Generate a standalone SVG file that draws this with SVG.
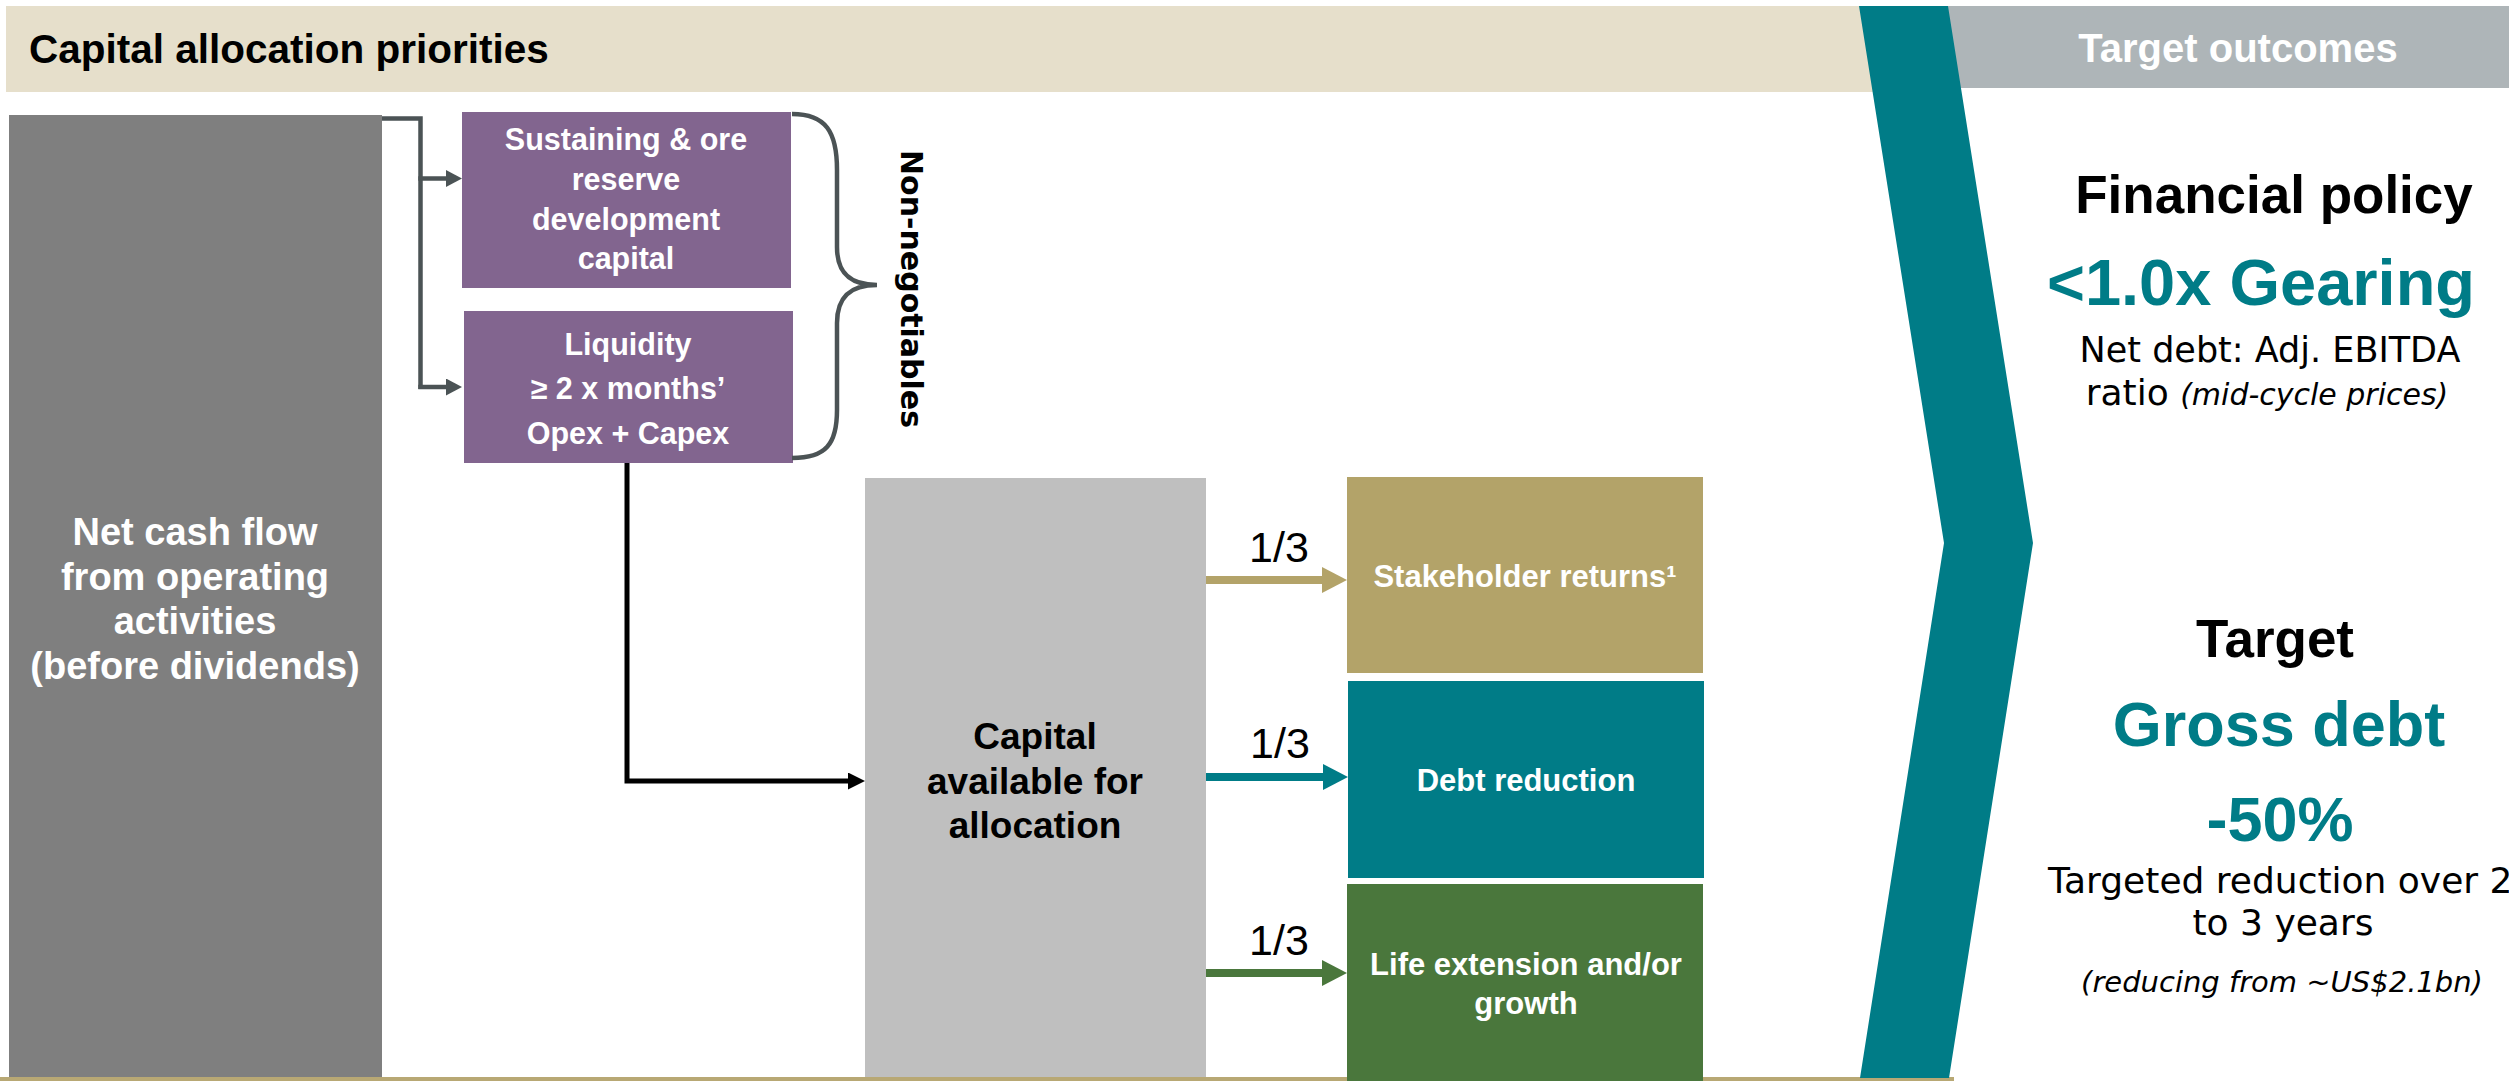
<svg xmlns="http://www.w3.org/2000/svg" width="2509" height="1081" viewBox="0 0 2509 1081">
<style>
.b{font-family:"Liberation Sans",Arial,sans-serif;font-weight:bold}
.r{font-family:"DejaVu Sans",sans-serif}
.c{text-anchor:middle}
.w{fill:#ffffff}
.k{fill:#000000}
.t{fill:#007c87}
.pt{font-size:30.5px}
.ot{font-size:31px}
.frac{font-family:"Liberation Sans",Arial,sans-serif;font-size:43px;fill:#000000;text-anchor:middle}
.gconn{fill:none;stroke:#4b5355;stroke-width:4.5}
</style>
<defs>
<marker id="ag" markerUnits="userSpaceOnUse" markerWidth="17" markerHeight="17" refX="0" refY="8.5" orient="auto"><path d="M0,0 L16,8.5 L0,17 Z" fill="#4b5355"/></marker>
<marker id="ak" markerUnits="userSpaceOnUse" markerWidth="18" markerHeight="17" refX="0" refY="8.5" orient="auto"><path d="M0,0 L17,8.5 L0,17 Z" fill="#000000"/></marker>
<marker id="atan" markerUnits="userSpaceOnUse" markerWidth="26" markerHeight="26" refX="0" refY="13" orient="auto"><path d="M0,0 L25,13 L0,26 Z" fill="#b3a369"/></marker>
<marker id="ateal" markerUnits="userSpaceOnUse" markerWidth="26" markerHeight="26" refX="0" refY="13" orient="auto"><path d="M0,0 L25,13 L0,26 Z" fill="#007c87"/></marker>
<marker id="agrn" markerUnits="userSpaceOnUse" markerWidth="26" markerHeight="26" refX="0" refY="13" orient="auto"><path d="M0,0 L25,13 L0,26 Z" fill="#4a773c"/></marker>
</defs>
<rect x="0" y="0" width="2509" height="1081" fill="#ffffff"/>

<g id="header-left">
<rect x="6" y="6" width="1900" height="86" fill="#e6dfcb"/>
<text x="29" y="63" class="b k" font-size="40.5">Capital allocation priorities</text>
</g>
<g id="header-right">
<rect x="1900" y="6" width="609" height="82" fill="#aeb5b8"/>
<text x="2238" y="62" class="b w c" font-size="40">Target outcomes</text>
</g>

<rect id="bottom-rule" x="0" y="1077" width="1954" height="4" fill="#b8a874"/>

<g id="net-cash-flow">
<rect x="9" y="115" width="373" height="962" fill="#7f7f7f"/>
<text class="b w c" font-size="38"><tspan x="195" y="545">Net cash flow</tspan><tspan x="195" y="590">from operating</tspan><tspan x="195" y="634">activities</tspan><tspan x="195" y="679">(before dividends)</tspan></text>
</g>

<g id="sustaining">
<rect x="462" y="112" width="329" height="176" fill="#82658f"/>
<text class="b w c pt"><tspan x="626" y="150">Sustaining &amp; ore</tspan><tspan x="626" y="190">reserve</tspan><tspan x="626" y="230">development</tspan><tspan x="626" y="269">capital</tspan></text>
</g>

<g id="liquidity">
<rect x="464" y="311" width="329" height="152" fill="#82658f"/>
<text class="b w c pt"><tspan x="628" y="355">Liquidity</tspan><tspan x="628" y="399">≥ 2 x months’</tspan><tspan x="628" y="444">Opex + Capex</tspan></text>
</g>

<g id="non-negotiables">
<path d="M792,114 C826,114 837,132 837,170 L837,247 C837,273 850,285 877,285 C850,285 837,297 837,323 L837,410 C837,444 826,458 792,458" fill="none" stroke="#4b5355" stroke-width="4.5"/>
<text transform="translate(901,289) rotate(90)" class="c k" font-family="'DejaVu Sans',sans-serif" font-weight="bold" font-size="30">Non-negotiables</text>
</g>

<g id="capital-available">
<rect x="865" y="478" width="341" height="599" fill="#bfbfbf"/>
<text class="b k c" font-size="37"><tspan x="1035" y="749">Capital</tspan><tspan x="1035" y="794">available for</tspan><tspan x="1035" y="838">allocation</tspan></text>
</g>

<g id="stakeholder-returns">
<rect x="1347" y="477" width="356" height="196" fill="#b3a369"/>
<text x="1525" y="587" class="b w c ot">Stakeholder returns¹</text>
</g>

<g id="debt-reduction">
<rect x="1348" y="681" width="356" height="197" fill="#007c87"/>
<text x="1526" y="791" class="b w c ot">Debt reduction</text>
</g>

<g id="life-extension">
<rect x="1347" y="884" width="356" height="197" fill="#4a773c"/>
<text class="b w c ot"><tspan x="1526" y="975">Life extension and/or</tspan><tspan x="1526" y="1014">growth</tspan></text>
</g>

<g id="connectors">
<path class="gconn" d="M382,118.5 H420.5 V389"/>
<path class="gconn" d="M418.3,178.5 H446" marker-end="url(#ag)"/>
<path class="gconn" d="M418.3,387 H446" marker-end="url(#ag)"/>
<path d="M627,463 V781 H848" fill="none" stroke="#000000" stroke-width="5" marker-end="url(#ak)"/>
<path d="M1206,580 H1322" fill="none" stroke="#b3a369" stroke-width="8" marker-end="url(#atan)"/>
<path d="M1206,777 H1323" fill="none" stroke="#007c87" stroke-width="8" marker-end="url(#ateal)"/>
<path d="M1206,973 H1322" fill="none" stroke="#4a773c" stroke-width="8" marker-end="url(#agrn)"/>
<text x="1279" y="562" class="frac">1/3</text>
<text x="1280" y="758" class="frac">1/3</text>
<text x="1279" y="955" class="frac">1/3</text>
</g>

<polygon id="chevron" points="1859,6 1948,6 2033,543 1949,1078 1860,1078 1944,543" fill="#007c87"/>

<g id="financial-policy">
<text x="2274" y="213" class="b k c" font-size="53">Financial policy</text>
<text x="2261" y="305" class="b t c" font-size="65">&lt;1.0x Gearing</text>
<text x="2270" y="362" class="r k c" font-size="35">Net debt: Adj. EBITDA</text>
<text x="2267" y="405" class="r k c" font-size="36">ratio <tspan font-style="italic" font-size="30">(mid-cycle prices)</tspan></text>
</g>

<g id="target">
<text x="2275" y="657" class="b k c" font-size="53">Target</text>
<text x="2279" y="746" class="b t c" font-size="63">Gross debt</text>
<text x="2280" y="841" class="b t c" font-size="63">-50%</text>
<text x="2048" y="893" class="r k" font-size="36">Targeted reduction over 2</text>
<text x="2283" y="935" class="r k c" font-size="36">to 3 years</text>
<text x="2282" y="992" class="r k c" font-size="29" font-style="italic">(reducing from ~US$2.1bn)</text>
</g>
</svg>
